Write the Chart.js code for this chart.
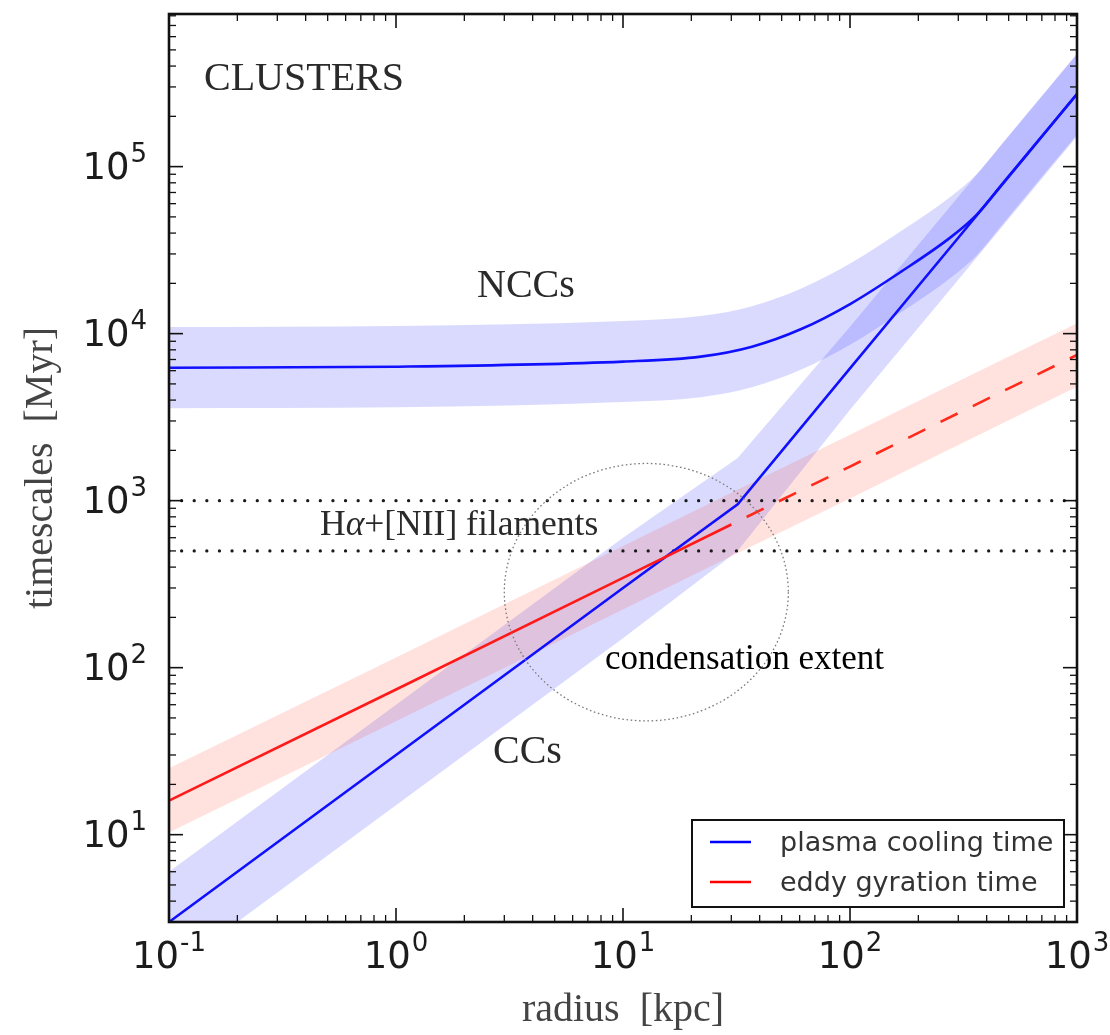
<!DOCTYPE html>
<html>
<head>
<meta charset="utf-8">
<title>Cluster timescales</title>
<script src="https://cdn.jsdelivr.net/npm/chart.js@4.4.0/dist/chart.umd.min.js"></script>
<style>
  html, body { margin: 0; padding: 0; background: #fff; }
  #wrap { width: 1110px; height: 1035px; }
</style>
</head>
<body>
<div id="wrap"><canvas id="chart" width="1110" height="1035"></canvas></div>
<script>
// ==================== data ====================
// radius in kpc, timescales in Myr

// NCC cooling time (with scatter band)
const nccR  = [0.1, 1, 10, 22, 37, 61, 101, 168, 280, 362, 466, 600, 783, 1000];
const nccT  = [6250, 6340, 6800, 7280, 8350, 10650, 15140, 23500, 38100, 51600, 78000, 118000, 182500, 272000];
const nccHi = [10940, 11100, 11900, 12740, 14610, 18640, 26500, 41100, 66700, 90300, 136500, 206500, 319400, 476000];
const nccLo = [3570, 3620, 3890, 4160, 4770, 6090, 8650, 13430, 21770, 29490, 44570, 67430, 104300, 155400];

// CC cooling time
const ccR  = [0.1, 1, 10, 32, 100, 300, 1000];
const ccT  = [3, 30, 300, 950, 6200, 37500, 272000];
const ccHi = [6, 60, 600, 1800, 11000, 66000, 470000];
const ccLo = [1.5, 15, 150, 500, 3500, 21000, 152000];

// eddy gyration time: solid inside 30 kpc, dashed outside
const eddyR      = [0.1, 1, 10, 30];
const eddyT      = [16, 74, 345, 720];
const eddyDashR  = [30, 100, 300, 1000];
const eddyDashT  = [720, 1600, 3340, 7450];
const eddyBandR  = [0.1, 1, 10, 30, 100, 300, 1000];
const eddyBandHi = [25, 115, 535, 1115, 2480, 5180, 11550];
const eddyBandLo = [10.3, 47.7, 223, 465, 1030, 2150, 4800];

// Halpha+[NII] filament ages
const filamentT = [500, 1000];

// condensation extent (bounding box of the dotted ring)
const condR = [3, 53.5];
const condT = [48, 1670];

// axis range and decade labels
const xRange = [0.1, 1000];
const yRange = [3, 8.2e5];
const xExp = [-1, 0, 1, 2, 3];
const yExp = [1, 2, 3, 4, 5];

const legendLabels = ['plasma cooling time', 'eddy gyration time'];
const legendColors = ['#0000ff', '#ff0000'];

// ==================== helpers ====================
const SERIF = '"Liberation Serif", "Times New Roman", serif';
const SANS = '"DejaVu Sans", sans-serif';
const BLUE_BAND = 'rgba(0, 0, 255, 0.145)';
const RED_BAND = 'rgba(255, 30, 0, 0.13)';

function pts(xs, ys) {
  return xs.map((x, i) => ({ x: x, y: ys[i] }));
}

function curve(xs, ys, color, extra) {
  return Object.assign({
    data: pts(xs, ys),
    borderColor: color,
    borderWidth: 2.6,
    pointRadius: 0,
    showLine: true,
    fill: false,
    tension: 0
  }, extra || {});
}

function bandEdge(xs, ys, color, fillTo, extra) {
  return Object.assign({
    data: pts(xs, ys),
    borderColor: 'rgba(0,0,0,0)',
    borderWidth: 0,
    backgroundColor: color,
    pointRadius: 0,
    showLine: true,
    fill: fillTo,
    tension: 0
  }, extra || {});
}

const levelLine = t => ({
  data: pts(xRange, [t, t]),
  borderColor: '#1a1a1a',
  borderWidth: 3.3,
  borderDash: [0.01, 12.6],
  borderCapStyle: 'round',
  pointRadius: 0,
  showLine: true,
  fill: false
});

// 10 with a raised exponent, in the matplotlib mathtext look
function powLabel(ctx, exp, x, yBase, align) {
  ctx.font = '37px ' + SANS;
  const wb = ctx.measureText('10').width;
  ctx.font = '26px ' + SANS;
  const es = String(exp);
  const we = ctx.measureText(es).width;
  const total = wb + we + 1;
  let x0 = x;
  if (align === 'center') x0 = x - total / 2;
  if (align === 'right') x0 = x - total;
  ctx.textAlign = 'left';
  ctx.textBaseline = 'alphabetic';
  ctx.font = '37px ' + SANS;
  ctx.fillText('10', x0, yBase);
  ctx.font = '26px ' + SANS;
  ctx.fillText(es, x0 + wb + 1, yBase - 17);
}

// ==================== frame, ticks, text ====================
const decorations = {
  id: 'decorations',
  afterDraw(chart) {
    const ctx = chart.ctx;
    const a = chart.chartArea;
    const xs = chart.scales.x;
    const ys = chart.scales.y;

    ctx.save();

    // condensation ring
    const cx0 = xs.getPixelForValue(condR[0]);
    const cx1 = xs.getPixelForValue(condR[1]);
    const cy0 = ys.getPixelForValue(condT[1]);
    const cy1 = ys.getPixelForValue(condT[0]);
    ctx.beginPath();
    ctx.ellipse((cx0 + cx1) / 2, (cy0 + cy1) / 2, (cx1 - cx0) / 2, (cy1 - cy0) / 2, 0, 0, Math.PI * 2);
    ctx.setLineDash([1.6, 2.6]);
    ctx.lineWidth = 1.3;
    ctx.strokeStyle = '#7a7a7a';
    ctx.stroke();
    ctx.setLineDash([]);

    // ticks on all four sides, pointing inward
    ctx.strokeStyle = '#111';
    const tick = (x1, y1, x2, y2, w) => {
      ctx.lineWidth = w;
      ctx.beginPath();
      ctx.moveTo(x1, y1);
      ctx.lineTo(x2, y2);
      ctx.stroke();
    };
    for (let e = -2; e <= 3; e++) {
      for (let k = 1; k <= 9; k++) {
        const v = k * Math.pow(10, e);
        if (v < xRange[0] - 1e-9 || v > xRange[1] + 1e-9) continue;
        const px = xs.getPixelForValue(v);
        const len = k === 1 ? 14 : 7;
        const w = k === 1 ? 1.6 : 1.3;
        tick(px, a.bottom, px, a.bottom - len, w);
        tick(px, a.top, px, a.top + len, w);
      }
    }
    for (let e = 0; e <= 5; e++) {
      for (let k = 1; k <= 9; k++) {
        const v = k * Math.pow(10, e);
        if (v < yRange[0] || v > yRange[1]) continue;
        const py = ys.getPixelForValue(v);
        const len = k === 1 ? 14 : 7;
        const w = k === 1 ? 1.6 : 1.3;
        tick(a.left, py, a.left + len, py, w);
        tick(a.right, py, a.right - len, py, w);
      }
    }

    // frame
    ctx.lineWidth = 2.6;
    ctx.strokeStyle = '#111';
    ctx.strokeRect(a.left, a.top, a.right - a.left, a.bottom - a.top);

    // tick labels
    ctx.fillStyle = '#1c1c1c';
    xExp.forEach(e => powLabel(ctx, e, xs.getPixelForValue(Math.pow(10, e)), a.bottom + 46, 'center'));
    yExp.forEach(e => powLabel(ctx, e, a.left - 22, ys.getPixelForValue(Math.pow(10, e)) + 12, 'right'));

    // axis titles
    ctx.fillStyle = '#444';
    ctx.font = '40px ' + SERIF;
    ctx.textAlign = 'center';
    ctx.textBaseline = 'alphabetic';
    ctx.fillText('radius  [kpc]', (a.left + a.right) / 2, 1021);
    ctx.save();
    ctx.translate(52, (a.top + a.bottom) / 2);
    ctx.rotate(-Math.PI / 2);
    ctx.fillText('timescales  [Myr]', 0, 0);
    ctx.restore();

    // annotations
    ctx.textAlign = 'left';
    ctx.fillStyle = '#2a2a2a';
    ctx.font = '40px ' + SERIF;
    ctx.fillText('CLUSTERS', 204, 90);
    ctx.fillText('NCCs', 477, 297);
    ctx.fillText('CCs', 493, 763);

    ctx.font = '35.5px ' + SERIF;
    let tx = 320;
    ctx.fillText('H', tx, 535);
    tx += ctx.measureText('H').width;
    ctx.font = 'italic 35.5px ' + SERIF;
    ctx.fillText('\u03b1', tx, 535);
    tx += ctx.measureText('\u03b1').width;
    ctx.font = '35.5px ' + SERIF;
    ctx.fillText('+[NII] filaments', tx, 535);

    ctx.fillStyle = '#000';
    ctx.font = '35px ' + SERIF;
    ctx.fillText('condensation extent', 605, 669);

    // legend box
    const lx = 692, ly = 820, lw = 372, lh = 87;
    ctx.fillStyle = '#fff';
    ctx.fillRect(lx, ly, lw, lh);
    ctx.lineWidth = 2;
    ctx.strokeStyle = '#111';
    ctx.strokeRect(lx, ly, lw, lh);
    ctx.font = '27px ' + SANS;
    legendLabels.forEach((lab, i) => {
      const yy = 842 + i * 40;
      ctx.strokeStyle = legendColors[i];
      ctx.lineWidth = 2.6;
      ctx.beginPath();
      ctx.moveTo(710, yy);
      ctx.lineTo(751, yy);
      ctx.stroke();
      ctx.fillStyle = '#333';
      ctx.fillText(lab, 780, yy + 9);
    });

    ctx.restore();
  }
};

// ==================== chart ====================
new Chart(document.getElementById('chart').getContext('2d'), {
  type: 'scatter',
  data: {
    datasets: [
      // lines first so they are painted on top
      curve(eddyDashR, eddyDashT, '#ff2a1a', { borderDash: [19, 17], borderDashOffset: 19 }),
      curve(eddyR, eddyT, '#ff1a1a'),
      curve(ccR, ccT, '#1010ff'),
      curve(nccR, nccT, '#1010ff', { cubicInterpolationMode: 'monotone' }),
      levelLine(filamentT[1]),
      levelLine(filamentT[0]),
      bandEdge(eddyBandR, eddyBandHi, RED_BAND, '+1'),
      bandEdge(eddyBandR, eddyBandLo, RED_BAND, false),
      bandEdge(ccR, ccHi, BLUE_BAND, '+1'),
      bandEdge(ccR, ccLo, BLUE_BAND, false),
      bandEdge(nccR, nccHi, BLUE_BAND, '+1', { cubicInterpolationMode: 'monotone' }),
      bandEdge(nccR, nccLo, BLUE_BAND, false, { cubicInterpolationMode: 'monotone' })
    ]
  },
  options: {
    responsive: false,
    animation: false,
    events: [],
    layout: { padding: { left: 169, right: 33, top: 14, bottom: 113 } },
    scales: {
      x: { type: 'logarithmic', min: xRange[0], max: xRange[1], display: false },
      y: { type: 'logarithmic', min: yRange[0], max: yRange[1], display: false }
    },
    plugins: {
      legend: { display: false },
      tooltip: { enabled: false },
      filler: { drawTime: 'beforeDatasetsDraw' }
    }
  },
  plugins: [decorations]
});
</script>
</body>
</html>
